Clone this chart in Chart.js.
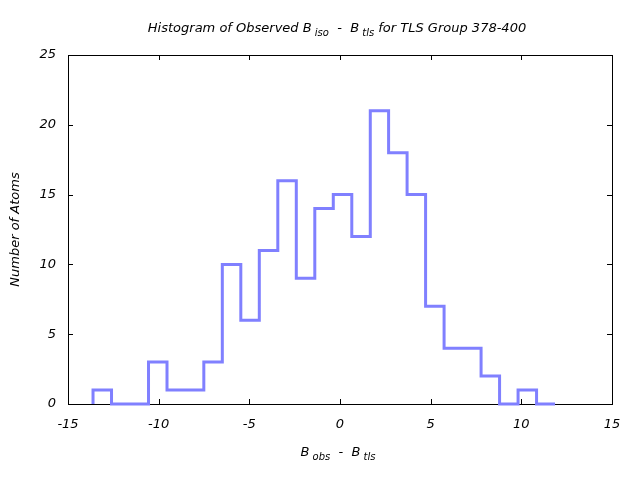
<!DOCTYPE html>
<html>
<head>
<meta charset="utf-8">
<script src="https://cdn.jsdelivr.net/npm/chart.js@4.4.1/dist/chart.umd.min.js"></script>
<style>
  html, body { margin: 0; padding: 0; background: #fff; }
  #wrap { width: 640px; height: 480px; }
</style>
</head>
<body>
<div id="wrap"><canvas id="histChart" width="640" height="480"></canvas></div>
<script>
/* global Chart */

// bin edges (B_obs - B_tls) and counts per bin
const binEdges = [
  -13.62, -12.60, -11.58, -10.56, -9.54, -8.53, -7.51, -6.49, -5.47, -4.45,
  -3.43, -2.41, -1.39, -0.37, 0.65, 1.67, 2.68, 3.70, 4.72, 5.74,
  6.76, 7.78, 8.80, 9.82, 10.84, 11.86
]
const atomCounts = [
  1, 0, 0, 3, 1, 1, 3, 10, 6, 11,
  16, 9, 14, 15, 12, 21, 18, 15, 7, 4,
  4, 2, 0, 1, 0
]
const xTickValues = [-15, -10, -5, 0, 5, 10, 15]
const yTickValues = [0, 5, 10, 15, 20, 25]

const titleParts = [
  { text: 'Histogram of Observed B' }, { text: 'iso', sub: true },
  { text: '  -  B' }, { text: 'tls', sub: true },
  { text: ' for TLS Group 378-400' }
]
const xLabelParts = [
  { text: 'B' }, { text: 'obs', sub: true },
  { text: '  -  B' }, { text: 'tls', sub: true }
]
const yLabelText = 'Number of Atoms'

const FONT = '"DejaVu Sans", sans-serif'

// step outline points: up from zero at the first edge, down to zero at the last
const stepPoints = [{ x: binEdges[0], y: 0 }]
atomCounts.forEach((count, i) => {
  stepPoints.push({ x: binEdges[i], y: count })
})
stepPoints.push({ x: binEdges[binEdges.length - 1], y: 0 })

function drawRich (ctx, parts, cx, baseline, size) {
  const subSize = Math.round(size * 0.77)
  let total = 0
  parts.forEach(p => {
    ctx.font = `italic ${p.sub ? subSize : size}px ${FONT}`
    p.w = ctx.measureText(p.sub ? ' ' + p.text : p.text).width
    total += p.w
  })
  let x = cx - total / 2
  ctx.textAlign = 'left'
  ctx.textBaseline = 'alphabetic'
  parts.forEach(p => {
    ctx.font = `italic ${p.sub ? subSize : size}px ${FONT}`
    ctx.fillText(p.sub ? ' ' + p.text : p.text, x, p.sub ? baseline + 4 : baseline)
    x += p.w
  })
}

const frameAndLabels = {
  id: 'frameAndLabels',
  beforeDatasetsDraw (chart) {
    const { ctx, chartArea: a, scales } = chart
    ctx.save()
    ctx.strokeStyle = '#000'
    ctx.lineWidth = 1
    ctx.strokeRect(a.left + 0.5, a.top + 0.5, a.right - a.left, a.bottom - a.top)
    ctx.beginPath()
    xTickValues.forEach(v => {
      const px = Math.round(scales.x.getPixelForValue(v)) + 0.5
      ctx.moveTo(px, a.bottom); ctx.lineTo(px, a.bottom - 5)
      ctx.moveTo(px, a.top); ctx.lineTo(px, a.top + 5)
    })
    yTickValues.forEach(v => {
      const py = Math.round(scales.y.getPixelForValue(v)) + 0.5
      ctx.moveTo(a.left, py); ctx.lineTo(a.left + 5, py)
      ctx.moveTo(a.right, py); ctx.lineTo(a.right - 5, py)
    })
    ctx.stroke()
    ctx.restore()
  },
  afterDraw (chart) {
    const { ctx, chartArea: a } = chart
    ctx.save()
    ctx.fillStyle = '#000'
    const cx = (a.left + a.right) / 2
    drawRich(ctx, titleParts, cx - 3, 32, 13)
    drawRich(ctx, xLabelParts, cx - 2, 456, 13)
    ctx.translate(19, (a.top + a.bottom) / 2)
    ctx.rotate(-Math.PI / 2)
    ctx.font = `italic 13px ${FONT}`
    ctx.textAlign = 'center'
    ctx.textBaseline = 'alphabetic'
    ctx.fillText(yLabelText, 0, 0)
    ctx.restore()
  }
}

const ctx = document.getElementById('histChart').getContext('2d')

new Chart(ctx, {
  type: 'line',
  data: {
    datasets: [{
      data: stepPoints,
      stepped: 'before',
      borderColor: 'rgb(128, 128, 255)',
      borderWidth: 3,
      pointRadius: 0,
      fill: false,
      clip: false
    }]
  },
  options: {
    responsive: false,
    animation: false,
    events: [],
    layout: { padding: { top: 55, right: 28, left: 0, bottom: 0 } },
    plugins: {
      legend: { display: false },
      title: { display: false },
      tooltip: { enabled: false }
    },
    scales: {
      x: {
        type: 'linear',
        min: -15,
        max: 15,
        grid: { display: false, drawTicks: false },
        border: { display: false },
        afterBuildTicks: (scale) => { scale.ticks = xTickValues.map(v => ({ value: v })) },
        afterFit: (scale) => { scale.height = 76 },
        ticks: {
          padding: 13,
          color: '#000',
          maxRotation: 0,
          font: { family: FONT, size: 13, style: 'italic' }
        }
      },
      y: {
        min: 0,
        max: 25,
        grid: { display: false, drawTicks: false },
        border: { display: false },
        afterBuildTicks: (scale) => { scale.ticks = yTickValues.map(v => ({ value: v })) },
        afterFit: (scale) => { scale.width = 68 },
        ticks: {
          padding: 12,
          color: '#000',
          font: { family: FONT, size: 13, style: 'italic' }
        }
      }
    }
  },
  plugins: [frameAndLabels]
})
</script>
</body>
</html>
